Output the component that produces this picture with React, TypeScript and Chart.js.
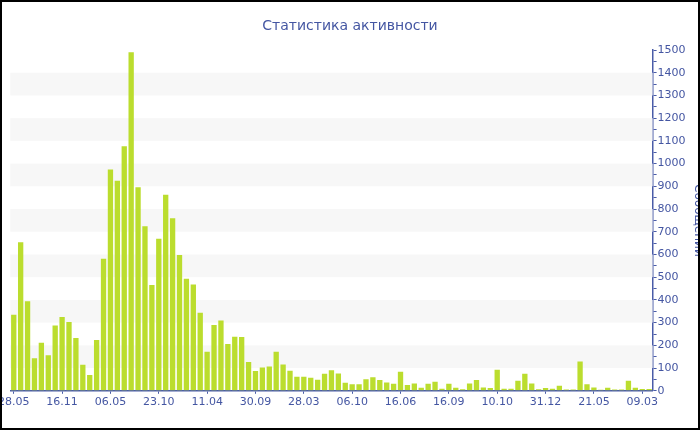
import React, { useEffect, useRef } from 'react';
import { Chart, registerables } from 'chart.js';

Chart.register(...registerables);

// ---- data ----
const chartTitle = 'Статистика активности';
const axisTitle = 'Сообщений';
const tickLabels = ['28.05', '16.11', '06.05', '23.10', '11.04', '30.09', '28.03', '06.10', '16.06', '16.09', '10.10', '31.12', '21.05', '09.03'];
const labelEvery = 7;
const messages = [
  335, 654, 394, 143, 212, 157, 287, 325, 303, 232,
  115, 69, 224, 581, 974, 924, 1076, 1490, 896, 724,
  466, 669, 863, 760, 598, 493, 468, 344, 172, 290,
  309, 206, 238, 237, 127, 87, 103, 107, 172, 116,
  88, 62, 62, 57, 49, 75, 90, 76, 35, 29,
  29, 51, 60, 47, 37, 31, 84, 25, 32, 13,
  31, 40, 9, 31, 13, 7, 32, 47, 15, 12,
  93, 9, 9, 44, 75, 32, 7, 12, 9, 22,
  6, 6, 129, 29, 15, 5, 13, 6, 6, 44,
  13, 8, 8,
];
const categories = messages.map((_, i) => (i % labelEvery === 0 ? tickLabels[i / labelEvery] : ''));
const yMax = 1500;
const yMinorStep = 50;
const yMajorStep = 100;
const bandStarts = [100, 300, 500, 700, 900, 1100, 1300];
const bandHeight = 100;

// ---- layout & styles ----
const BOX_W = 700;
const BOX_H = 430;
const BORDER = 2;
const CANVAS_LEFT = -6;
const CANVAS_W = 713;
const CANVAS_H = 426;
const TITLE_Y = 24;
const FONT = '"DejaVu Sans", Verdana, sans-serif';
const BAR = '#bbdd2e';
const TEXT = '#4456a2';
const AXIS = '#4a5ca8';
const BAND = '#f7f7f7';

const bandPlugin = {
  id: 'bands',
  beforeDatasetsDraw(chart: any) {
    const { ctx, chartArea, scales } = chart;
    const y = scales.y;
    ctx.save();
    ctx.fillStyle = BAND;
    for (const v of bandStarts) {
      const top = y.getPixelForValue(v + bandHeight);
      const bottom = y.getPixelForValue(v);
      ctx.fillRect(chartArea.left, top, chartArea.right - chartArea.left, bottom - top);
    }
    ctx.restore();
  },
};

const titlePlugin = {
  id: 'centeredTitle',
  afterDraw(chart: any) {
    const { ctx } = chart;
    ctx.save();
    ctx.font = `14px ${FONT}`;
    ctx.fillStyle = TEXT;
    ctx.textAlign = 'center';
    ctx.textBaseline = 'middle';
    ctx.fillText(chartTitle, BOX_W / 2 - BORDER - CANVAS_LEFT, TITLE_Y);
    ctx.restore();
  },
};

export default function App() {
  const ref = useRef<HTMLCanvasElement>(null);
  useEffect(() => {
    document.body.style.margin = '0';
    Chart.defaults.font.family = FONT;
    const chart = new Chart(ref.current as HTMLCanvasElement, {
      type: 'bar',
      data: {
        labels: categories,
        datasets: [
          {
            data: messages,
            backgroundColor: BAR,
            borderWidth: 0,
            barPercentage: 0.77,
            categoryPercentage: 1,
          },
        ],
      },
      options: {
        responsive: false,
        animation: false,
        layout: { padding: { top: 48, bottom: 17, left: 0, right: 0 } },
        plugins: {
          legend: { display: false },
          tooltip: { enabled: false },
          title: { display: false },
        },
        scales: {
          x: {
            offset: true,
            grid: {
              display: true,
              offset: false,
              drawOnChartArea: false,
              drawTicks: true,
              tickLength: 3,
              tickColor: (c: any) => (c.index % labelEvery === 0 ? AXIS : 'rgba(0,0,0,0)'),
            },
            border: { display: true, color: AXIS, width: 1.5 },
            ticks: {
              autoSkip: false,
              maxRotation: 0,
              minRotation: 0,
              padding: 2,
              color: TEXT,
              font: { size: 11 },
              callback: (_v: any, i: number) => categories[i],
            },
          },
          y: {
            position: 'right',
            min: 0,
            max: yMax,
            grid: { drawOnChartArea: false, drawTicks: true, tickLength: 4, tickColor: AXIS },
            border: { display: true, color: AXIS, width: 1.5 },
            ticks: {
              stepSize: yMinorStep,
              maxTicksLimit: 100,
              autoSkip: false,
              padding: 1,
              color: TEXT,
              font: { size: 11 },
              callback: (v: any) => (Number(v) % yMajorStep === 0 ? String(v) : ''),
            },
            title: {
              display: true,
              text: axisTitle,
              color: TEXT,
              font: { size: 12 },
              padding: 4,
            },
          },
        },
      },
      plugins: [bandPlugin, titlePlugin],
    } as any);
    return () => chart.destroy();
  }, []);

  return (
    <div
      style={{
        position: 'fixed',
        left: 0,
        top: 0,
        width: BOX_W,
        height: BOX_H,
        boxSizing: 'border-box',
        border: `${BORDER}px solid #000`,
        overflow: 'hidden',
        background: '#fff',
      }}
    >
      <canvas
        ref={ref}
        width={CANVAS_W}
        height={CANVAS_H}
        style={{ position: 'absolute', left: CANVAS_LEFT, top: 0, width: CANVAS_W, height: CANVAS_H }}
      />
    </div>
  );
}
